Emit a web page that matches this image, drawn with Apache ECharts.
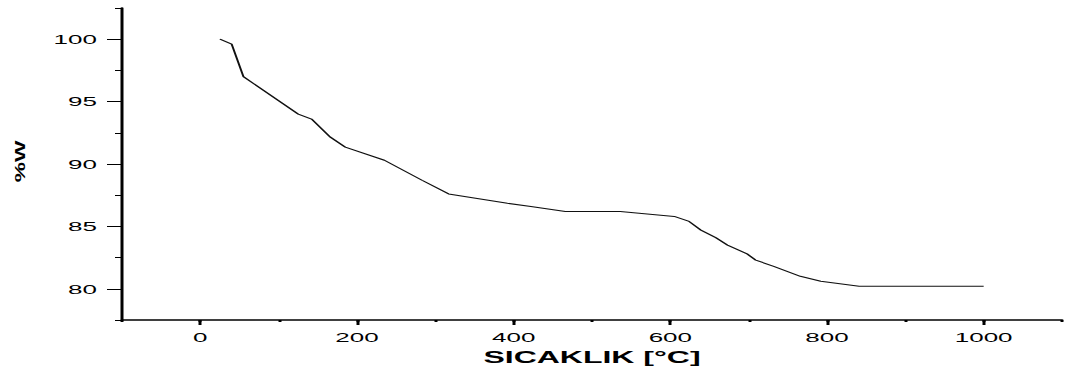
<!DOCTYPE html>
<html>
<head>
<meta charset="utf-8">
<title>SICAKLIK - %W</title>
<script src="https://cdn.jsdelivr.net/npm/echarts@6/dist/echarts.min.js"></script>
<style>
  html, body { margin: 0; padding: 0; background: #fff; overflow: hidden; }
  /* the plot is laid out at half width and stretched horizontally */
  #chart { width: 535px; height: 370px; transform: scaleX(2); transform-origin: 0 0; }
</style>
</head>
<body>
<div id="chart"></div>
<script>
// Temperature (°C) and remaining mass (%)
const temperature = [25, 40, 55, 125, 142, 166, 185, 235, 283, 317, 392, 422, 466, 536, 605, 624, 639, 658, 673, 698, 709, 732, 766, 792, 841, 1000];
const massPercent = [100, 99.6, 97.0, 94.0, 93.6, 92.15, 91.35, 90.3, 88.7, 87.6, 86.85, 86.6, 86.2, 86.2, 85.8, 85.4, 84.7, 84.1, 83.5, 82.8, 82.3, 81.8, 81.0, 80.6, 80.2, 80.2];

// axis ranges and tick steps
const xRange = [-100, 1100], xMajor = [0, 1000], xMajorStep = 200, xMinorStep = 100;
const yRange = [77.5, 102.5], yMajor = [80, 100], yMajorStep = 5, yMinorStep = 2.5;

const xTitle = 'SICAKLIK [°C]';
const yTitle = '%W';

// plot frame (in the unstretched layout)
const frame = { left: 61, top: 8, width: 470, height: 312 };

// second frame carrying the long major ticks, aligned to the same scale
const xSpan = xRange[1] - xRange[0], ySpan = yRange[1] - yRange[0];
const majorFrame = {
  left: frame.left + (xMajor[0] - xRange[0]) / xSpan * frame.width,
  width: (xMajor[1] - xMajor[0]) / xSpan * frame.width,
  top: frame.top + (yRange[1] - yMajor[1]) / ySpan * frame.height,
  height: (yMajor[1] - yMajor[0]) / ySpan * frame.height
};
// shift its axes back onto the main frame's edges
const majorYOffset = majorFrame.left - frame.left;
const majorXOffset = (frame.top + frame.height) - (majorFrame.top + majorFrame.height);

const font = 'Liberation Sans, Arial, sans-serif';
const black = '#000';

const chart = echarts.init(document.getElementById('chart'), null, { renderer: 'svg' });

chart.setOption({
  animation: false,
  backgroundColor: '#fff',
  grid: [
    { left: frame.left, top: frame.top, width: frame.width, height: frame.height, outerBoundsMode: 'none' },
    { left: majorFrame.left, top: majorFrame.top, width: majorFrame.width, height: majorFrame.height, outerBoundsMode: 'none' }
  ],
  xAxis: [
    {
      gridIndex: 0, type: 'value',
      min: xRange[0], max: xRange[1], interval: xMinorStep,
      axisLine: { show: true, onZero: false, lineStyle: { color: black, width: 1.5 } },
      axisTick: { show: true, length: 2, lineStyle: { color: black, width: 1.5 } },
      axisLabel: {
        margin: 11, color: black, fontFamily: font, fontSize: 13,
        formatter: v => (v % xMajorStep === 0 ? String(v) : '')
      },
      splitLine: { show: false },
      name: xTitle, nameLocation: 'middle', nameGap: 29,
      nameTextStyle: { color: black, fontFamily: font, fontSize: 16, fontWeight: 'bold' }
    },
    {
      gridIndex: 1, type: 'value', position: 'bottom', offset: majorXOffset,
      min: xMajor[0], max: xMajor[1], interval: xMajorStep,
      axisLine: { show: false, onZero: false },
      axisTick: { show: true, length: 5, lineStyle: { color: black, width: 1.5 } },
      axisLabel: { show: false },
      splitLine: { show: false }
    }
  ],
  yAxis: [
    {
      gridIndex: 0, type: 'value',
      min: yRange[0], max: yRange[1], interval: yMinorStep,
      axisLine: { show: true, onZero: false, lineStyle: { color: black, width: 1.5 } },
      axisTick: { show: true, length: 3.5, lineStyle: { color: black, width: 1 } },
      axisLabel: {
        margin: 12.5, color: black, fontFamily: font, fontSize: 13,
        formatter: v => (v % yMajorStep === 0 ? String(v) : '')
      },
      splitLine: { show: false }
    },
    {
      gridIndex: 1, type: 'value', position: 'left', offset: majorYOffset,
      min: yMajor[0], max: yMajor[1], interval: yMajorStep,
      axisLine: { show: false, onZero: false },
      axisTick: { show: true, length: 7.5, lineStyle: { color: black, width: 1 } },
      axisLabel: { show: false },
      splitLine: { show: false }
    }
  ],
  graphic: [
    {
      // vertical axis title, narrow and tall
      type: 'text', x: 10, y: 161.5, rotation: Math.PI / 2, scaleX: 1.42, scaleY: 0.47,
      style: { text: yTitle, fill: black, font: 'bold 16px ' + font, align: 'center', verticalAlign: 'middle' }
    }
  ],
  series: [
    {
      type: 'line', xAxisIndex: 0, yAxisIndex: 0,
      data: temperature.map((t, i) => [t, massPercent[i]]),
      showSymbol: false, symbol: 'none', smooth: false,
      lineStyle: { color: '#111', width: 1 }
    }
  ]
});
</script>
</body>
</html>
